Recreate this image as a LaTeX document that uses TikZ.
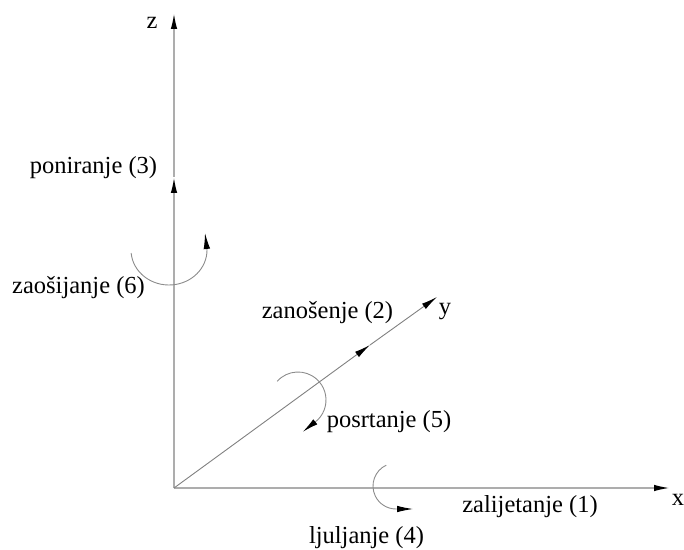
\documentclass[tikz,border=0pt]{standalone}
\usepackage{fontspec}
\setmainfont{Liberation Serif}
\usepackage{tikz}
\usetikzlibrary{arrows.meta}

\begin{document}
\begin{tikzpicture}[
  x=1pt, y=1pt,
  font=\fontsize{24.5}{29}\selectfont,
  axis/.style={
    draw=black!32, line width=1.8pt,
    -{Latex[length=16pt,width=6.5pt,color=black]}},
  diag/.style={axis,
    draw=black!50, line width=0.9pt},
  rot/.style={
    draw=black!45, line width=0.9pt,
    -{Latex[length=16pt,width=6.5pt,color=black]}},
  lbl/.style={inner sep=0pt, anchor=center}
]
\useasboundingbox (-174,-61) rectangle (510,488);

\coordinate (O)  at (0,0);
\coordinate (X)  at (496,0);
\coordinate (Z)  at (0,475);
\coordinate (Zm) at (0,311);
\coordinate (Y)  at (263,191);
\coordinate (Ym) at (196,143);

\coordinate (Cz) at (-5,238);
\coordinate (Cy) at (124,88);
\coordinate (Cx) at (222,2);

\draw[axis] (O) -- (X);
\draw[axis] (O) -- (Zm);
\draw[axis] (Zm) -- (Z);
\draw[diag] (O) -- (Ym);
\draw[diag] (Ym) -- (Y);

\draw[rot] (Cz) ++(185:38 and 35)
  arc[start angle=185, end angle=360,
      x radius=38, y radius=35]
  -- ++(-2,17);
\draw[rot] (Cy) ++(138:28)
  arc[start angle=138, end angle=-45, radius=28]
  -- ++(-15,-12);
\draw[rot] (Cx) ++(115:23)
  arc[start angle=115, end angle=270, radius=23]
  -- ++(17,0);

\node[lbl] (lz) at (-22,465) {z};
\node[lbl] (lx) at (504,-12) {x};
\node[lbl] (ly) at (271,176) {y};

\node[lbl] (t3) at (-80.5,320) {poniranje (3)};
\node[lbl] (r6) at (-95.5,200) {zaošijanje (6)};
\node[lbl] (t2) at (153.5,175) {zanošenje (2)};
\node[lbl] (r5) at (215,66) {posrtanje (5)};
\node[lbl] (t1) at (356,-18.5) {zalijetanje (1)};
\node[lbl] (r4) at (192.5,-49.5) {ljuljanje (4)};
\end{tikzpicture}
\end{document}
